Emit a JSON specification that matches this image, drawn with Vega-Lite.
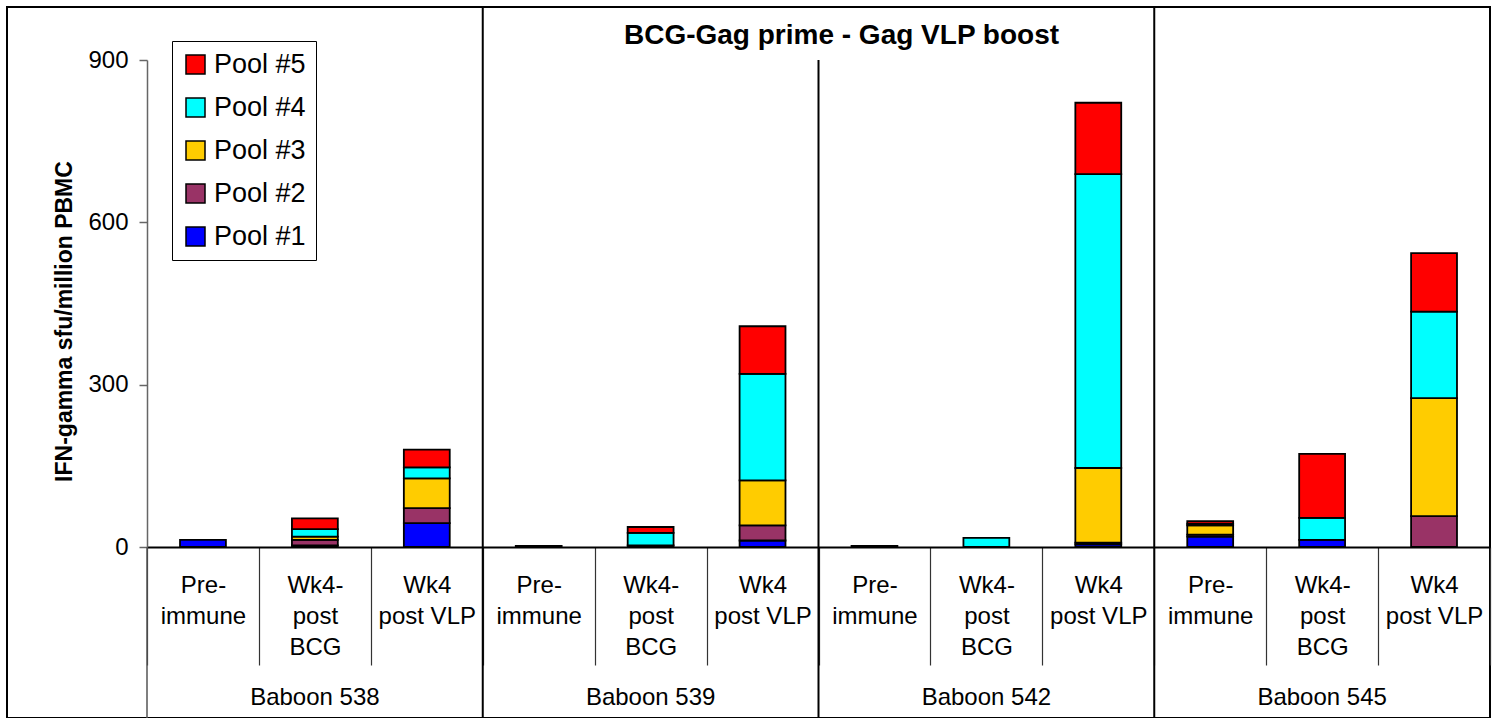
{
  "$schema": "https://vega.github.io/schema/vega-lite/v6.json",
  "width": 1483,
  "height": 711,
  "autosize": {"type": "none"},
  "padding": {"left": 7, "top": 7, "right": 6, "bottom": 0},
  "background": "white",
  "config": {
    "font": "Liberation Sans",
    "view": {"stroke": "black", "strokeWidth": 2}
  },
  "title": {
    "text": "BCG-Gag prime - Gag VLP boost",
    "fontSize": 28,
    "fontWeight": "bold",
    "color": "black",
    "anchor": "middle",
    "dx": 93,
    "offset": -66,
    "baseline": "alphabetic"
  },
  "layer": [
    {
      "data": {
        "values": [
          {"cat": "538|Pre-|immune", "pool": "Pool #1", "v": 13},
          {"cat": "538|Wk4-|post|BCG", "pool": "Pool #1", "v": 3},
          {"cat": "538|Wk4-|post|BCG", "pool": "Pool #2", "v": 10},
          {"cat": "538|Wk4-|post|BCG", "pool": "Pool #3", "v": 6},
          {"cat": "538|Wk4-|post|BCG", "pool": "Pool #4", "v": 14},
          {"cat": "538|Wk4-|post|BCG", "pool": "Pool #5", "v": 20},
          {"cat": "538|Wk4|post VLP", "pool": "Pool #1", "v": 44},
          {"cat": "538|Wk4|post VLP", "pool": "Pool #2", "v": 28},
          {"cat": "538|Wk4|post VLP", "pool": "Pool #3", "v": 55},
          {"cat": "538|Wk4|post VLP", "pool": "Pool #4", "v": 20},
          {"cat": "538|Wk4|post VLP", "pool": "Pool #5", "v": 33},
          {"cat": "539|Pre-|immune", "pool": "Pool #1", "v": 2},
          {"cat": "539|Wk4-|post|BCG", "pool": "Pool #1", "v": 3},
          {"cat": "539|Wk4-|post|BCG", "pool": "Pool #4", "v": 23},
          {"cat": "539|Wk4-|post|BCG", "pool": "Pool #5", "v": 11},
          {"cat": "539|Wk4|post VLP", "pool": "Pool #1", "v": 12},
          {"cat": "539|Wk4|post VLP", "pool": "Pool #2", "v": 28},
          {"cat": "539|Wk4|post VLP", "pool": "Pool #3", "v": 83},
          {"cat": "539|Wk4|post VLP", "pool": "Pool #4", "v": 197},
          {"cat": "539|Wk4|post VLP", "pool": "Pool #5", "v": 88},
          {"cat": "542|Pre-|immune", "pool": "Pool #1", "v": 2},
          {"cat": "542|Wk4-|post|BCG", "pool": "Pool #4", "v": 17},
          {"cat": "542|Wk4|post VLP", "pool": "Pool #1", "v": 5},
          {"cat": "542|Wk4|post VLP", "pool": "Pool #2", "v": 3},
          {"cat": "542|Wk4|post VLP", "pool": "Pool #3", "v": 138},
          {"cat": "542|Wk4|post VLP", "pool": "Pool #4", "v": 543},
          {"cat": "542|Wk4|post VLP", "pool": "Pool #5", "v": 132},
          {"cat": "545|Pre-|immune", "pool": "Pool #1", "v": 19},
          {"cat": "545|Pre-|immune", "pool": "Pool #2", "v": 4},
          {"cat": "545|Pre-|immune", "pool": "Pool #3", "v": 17},
          {"cat": "545|Pre-|immune", "pool": "Pool #4", "v": 3},
          {"cat": "545|Pre-|immune", "pool": "Pool #5", "v": 5},
          {"cat": "545|Wk4-|post|BCG", "pool": "Pool #1", "v": 13},
          {"cat": "545|Wk4-|post|BCG", "pool": "Pool #4", "v": 41},
          {"cat": "545|Wk4-|post|BCG", "pool": "Pool #5", "v": 118},
          {"cat": "545|Wk4|post VLP", "pool": "Pool #2", "v": 57},
          {"cat": "545|Wk4|post VLP", "pool": "Pool #3", "v": 218},
          {"cat": "545|Wk4|post VLP", "pool": "Pool #4", "v": 160},
          {"cat": "545|Wk4|post VLP", "pool": "Pool #5", "v": 108}
        ]
      },
      "mark": {"type": "bar", "width": {"band": 0.41}, "stroke": "black", "strokeWidth": 1.8},
      "encoding": {
        "x": {
          "field": "cat",
          "type": "nominal",
          "title": null,
          "sort": null,
          "scale": {
            "type": "band",
            "domain": ["538|Pre-|immune", "538|Wk4-|post|BCG", "538|Wk4|post VLP", "539|Pre-|immune", "539|Wk4-|post|BCG", "539|Wk4|post VLP", "542|Pre-|immune", "542|Wk4-|post|BCG", "542|Wk4|post VLP", "545|Pre-|immune", "545|Wk4-|post|BCG", "545|Wk4|post VLP"],
            "range": [140, 1483],
            "paddingInner": 0,
            "paddingOuter": 0
          },
          "axis": {
            "orient": "bottom",
            "offset": -171,
            "domainColor": "black",
            "domainWidth": 2,
            "tickBand": "extent",
            "tickSize": 118,
            "tickColor": "#333333",
            "tickWidth": 1.2,
            "labelExpr": "slice(split(datum.value, '|'), 1)",
            "labelFontSize": 24,
            "labelColor": "black",
            "labelAngle": 0,
            "labelBaseline": "alphabetic",
            "labelLineHeight": 31,
            "labelPadding": -73,
            "labelOverlap": false,
            "labelBound": false,
            "labelFlush": false
          }
        },
        "y": {
          "field": "v",
          "type": "quantitative",
          "stack": "zero",
          "scale": {"domain": [0, 900], "range": [540, 53], "nice": false, "zero": true},
          "axis": {
            "title": "IFN-gamma sfu/million PBMC",
            "values": [0, 300, 600, 900],
            "offset": -140,
            "grid": false,
            "domainColor": "#666666",
            "domainWidth": 1.5,
            "tickColor": "#666666",
            "tickWidth": 1.5,
            "tickSize": 8,
            "labelFontSize": 24,
            "labelColor": "black",
            "labelPadding": 11,
            "titleFontSize": 23,
            "titleFontWeight": "bold",
            "titleColor": "black",
            "titlePadding": 12,
            "titleX": -71,
            "titleY": 314
          }
        },
        "color": {
          "field": "pool",
          "type": "nominal",
          "scale": {
            "domain": ["Pool #5", "Pool #4", "Pool #3", "Pool #2", "Pool #1"],
            "range": ["#FF0000", "#00FFFF", "#FFCC00", "#993366", "#0000FF"]
          },
          "legend": {
            "title": null,
            "orient": "none",
            "legendX": 165,
            "legendY": 34,
            "fillColor": "white",
            "strokeColor": "black",
            "padding": 10,
            "symbolType": "square",
            "symbolSize": 361,
            "symbolStrokeColor": "black",
            "symbolStrokeWidth": 1.5,
            "symbolOpacity": 1,
            "labelFontSize": 27,
            "labelColor": "black",
            "labelOffset": 5,
            "rowPadding": 15
          }
        },
        "order": {"field": "pool", "sort": "ascending"}
      }
    },
    {
      "data": {"values": [{"cat": "539|Pre-|immune"}, {"cat": "545|Pre-|immune"}]},
      "mark": {"type": "rule", "stroke": "black", "strokeWidth": 2},
      "encoding": {
        "x": {"field": "cat", "type": "nominal", "title": null, "bandPosition": 0},
        "y": {"datum": 998, "type": "quantitative"},
        "y2": {"datum": -320}
      }
    },
    {
      "data": {"values": [{"cat": "542|Pre-|immune"}]},
      "mark": {"type": "rule", "stroke": "black", "strokeWidth": 2},
      "encoding": {
        "x": {"field": "cat", "type": "nominal", "title": null, "bandPosition": 0},
        "y": {"datum": 900, "type": "quantitative"},
        "y2": {"datum": -320}
      }
    },
    {
      "data": {"values": [{"cat": "538|Pre-|immune"}]},
      "mark": {"type": "rule", "stroke": "#555555", "strokeWidth": 1.5},
      "encoding": {
        "x": {"field": "cat", "type": "nominal", "title": null, "bandPosition": 0},
        "y": {"datum": 0, "type": "quantitative"},
        "y2": {"datum": -320}
      }
    },
    {
      "data": {
        "values": [
          {"cat": "538|Wk4-|post|BCG", "g": "Baboon 538"},
          {"cat": "539|Wk4-|post|BCG", "g": "Baboon 539"},
          {"cat": "542|Wk4-|post|BCG", "g": "Baboon 542"},
          {"cat": "545|Wk4-|post|BCG", "g": "Baboon 545"}
        ]
      },
      "mark": {"type": "text", "fontSize": 24, "color": "black", "baseline": "alphabetic", "align": "center"},
      "encoding": {
        "x": {"field": "cat", "type": "nominal", "title": null},
        "y": {"datum": -292, "type": "quantitative"},
        "text": {"field": "g"}
      }
    }
  ]
}
